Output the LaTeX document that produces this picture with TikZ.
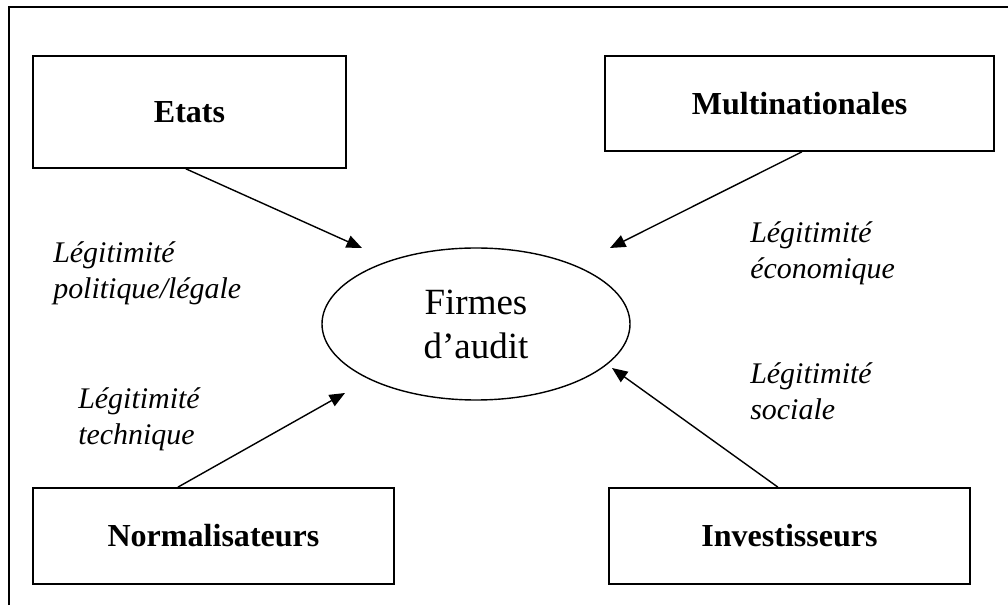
\documentclass[tikz,border=0pt]{standalone}
\usepackage{fontspec}
\setmainfont{Liberation Serif}
\usetikzlibrary{arrows.meta,shapes.geometric}

\tikzset{
    actor/.style={draw=black,line width=1.2pt,inner sep=0pt,
        font=\fontsize{22.8}{27}\selectfont\bfseries},
    legit/.style={anchor=north west,inner sep=0pt,align=left,
        font=\fontsize{21.3}{25.6}\selectfont\itshape},
    link/.style={line width=1pt,-{Triangle[length=11pt,width=9pt]}}
}

\begin{document}
\begin{tikzpicture}

    \useasboundingbox (0,0) rectangle (25.2,15.125);

    % frame
    \draw[line width=1.4pt] (0.225,0) -- (0.225,14.95) -- (25.2,14.95);

    % the four actors
    \node[actor,minimum width=7.825cm,minimum height=2.8cm] (etats) at (4.7375,12.325) {Etats};
    \node[actor,minimum width=9.725cm,minimum height=2.375cm] (multi) at (19.9875,12.5375) {Multinationales};
    \node[actor,minimum width=9.025cm,minimum height=2.4cm] (norm) at (5.3375,1.725) {Normalisateurs};
    \node[actor,minimum width=9.025cm,minimum height=2.4cm] (invest) at (19.7375,1.725) {Investisseurs};

    % audit firms in the middle
    \node[ellipse,draw,line width=1pt,minimum width=7.7cm,minimum height=3.8cm,inner sep=0pt,
        align=center,font=\fontsize{26.3}{31.3}\selectfont] (firmes) at (11.9,7.025) {Firmes\\d’audit};

    \coordinate (tipEtats) at (9.05,8.925);
    \coordinate (tipMulti) at (15.25,8.925);
    \coordinate (tipNorm) at (8.625,5.3);
    \coordinate (tipInvest) at (15.3,5.925);

    \draw[link] ([xshift=-0.09cm]etats.south) -- (tipEtats);
    \draw[link] ([xshift=0.06cm]multi.south) -- (tipMulti);
    \draw[link] ([xshift=-0.89cm]norm.north) -- (tipNorm);
    \draw[link] ([xshift=-0.29cm]invest.north) -- (tipInvest);

    % kinds of legitimacy
    \node[legit] (lpol) at (1.325,9.1) {Légitimité\\politique/légale};
    \node[legit] (ltech) at (1.95,5.45) {Légitimité\\technique};
    \node[legit] (leco) at (18.75,9.6) {Légitimité\\économique};
    \node[legit] (lsoc) at (18.75,6.075) {Légitimité\\sociale};

\end{tikzpicture}
\end{document}
